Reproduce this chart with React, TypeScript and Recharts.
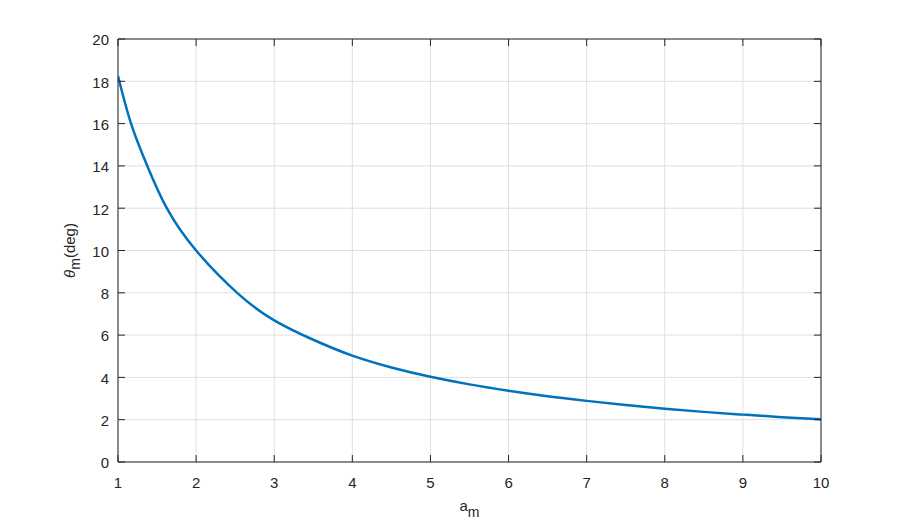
import { LineChart, Line, XAxis, YAxis, CartesianGrid, Label } from 'recharts';

// a_m sample points and the read-off theta_m (deg) values
const aM = [1, 1.167, 1.375, 1.625, 2, 2.54, 3, 3.5, 4, 4.5, 5, 5.5, 6, 6.5, 7, 7.5, 8, 8.5, 9, 9.5, 10];
const thetaM = [18.25, 16, 14, 12, 10, 7.95, 6.7, 5.78, 5.03, 4.47, 4.03, 3.67, 3.37, 3.11, 2.89, 2.69, 2.52, 2.37, 2.24, 2.12, 2.02];

const xTicks = [1, 2, 3, 4, 5, 6, 7, 8, 9, 10];
const yTicks = [0, 2, 4, 6, 8, 10, 12, 14, 16, 18, 20];

const data = aM.map((a, i) => ({ a, theta: thetaM[i] }));

const AXIS = '#262626';
const FONT = 'Arial, "Liberation Sans", Helvetica, sans-serif';
const FS = 15;

// tick marks only, no text
const NoText = () => <g />;

const YLabel = (props: any) => {
  const { viewBox } = props;
  const cx = viewBox.x + 75;
  const cy = viewBox.y + viewBox.height / 2;
  return (
    <text
      x={cx}
      y={cy}
      transform={`rotate(-90, ${cx}, ${cy})`}
      textAnchor="middle"
      fill={AXIS}
      fontSize={FS}
      fontFamily={FONT}
    >
      <tspan fontStyle="italic">θ</tspan>
      <tspan dy={5} fontSize={FS - 1}>m</tspan>
      <tspan dy={-5}>(deg)</tspan>
    </text>
  );
};

const XLabel = (props: any) => {
  const { viewBox } = props;
  const cx = viewBox.x + viewBox.width / 2;
  const cy = viewBox.y + 49;
  return (
    <text x={cx} y={cy} textAnchor="middle" fill={AXIS} fontSize={FS} fontFamily={FONT}>
      <tspan>a</tspan>
      <tspan dy={6} fontSize={FS - 1}>m</tspan>
    </text>
  );
};

export default function App() {
  return (
    <div style={{ position: 'absolute', left: 0, top: 0, background: '#fff' }}>
      <LineChart
        width={908}
        height={525}
        data={data}
        margin={{ top: 39, right: 87, bottom: 0, left: 0 }}
        style={{ fontFamily: FONT }}
      >
        <CartesianGrid stroke="#dfdfdf" strokeWidth={1} />
        <XAxis
          dataKey="a"
          type="number"
          domain={[1, 10]}
          ticks={xTicks}
          allowDataOverflow
          height={63}
          tickSize={0}
          tickMargin={15}
          tickLine={false}
          axisLine={{ stroke: AXIS }}
          fontSize={FS}
          tick={{ fill: AXIS, fontSize: FS }}
        >
          <Label content={XLabel} />
        </XAxis>
        <XAxis
          xAxisId="bm"
          dataKey="a"
          type="number"
          orientation="bottom"
          mirror
          domain={[1, 10]}
          ticks={xTicks}
          allowDataOverflow
          tick={NoText}
          tickSize={7}
          tickLine={{ stroke: AXIS }}
          axisLine={false}
        />
        <XAxis
          xAxisId="tm"
          dataKey="a"
          type="number"
          orientation="top"
          mirror
          domain={[1, 10]}
          ticks={xTicks}
          allowDataOverflow
          tick={NoText}
          tickSize={7}
          tickLine={{ stroke: AXIS }}
          axisLine={{ stroke: AXIS }}
        />
        <YAxis
          type="number"
          domain={[0, 20]}
          ticks={yTicks}
          allowDataOverflow
          width={118}
          tickSize={0}
          tickMargin={9}
          tickLine={false}
          axisLine={{ stroke: AXIS }}
          fontSize={FS}
          tick={{ fill: AXIS, fontSize: FS, dy: 1 }}
        >
          <Label content={YLabel} />
        </YAxis>
        <YAxis
          yAxisId="lm"
          type="number"
          orientation="left"
          mirror
          domain={[0, 20]}
          ticks={yTicks}
          allowDataOverflow
          tick={NoText}
          tickSize={7}
          tickLine={{ stroke: AXIS }}
          axisLine={false}
        />
        <YAxis
          yAxisId="rm"
          type="number"
          orientation="right"
          mirror
          domain={[0, 20]}
          ticks={yTicks}
          allowDataOverflow
          tick={NoText}
          tickSize={7}
          tickLine={{ stroke: AXIS }}
          axisLine={{ stroke: AXIS }}
        />
        <Line
          type="natural"
          dataKey="theta"
          stroke="#0072bd"
          strokeWidth={2.5}
          dot={false}
          isAnimationActive={false}
        />
      </LineChart>
    </div>
  );
}
